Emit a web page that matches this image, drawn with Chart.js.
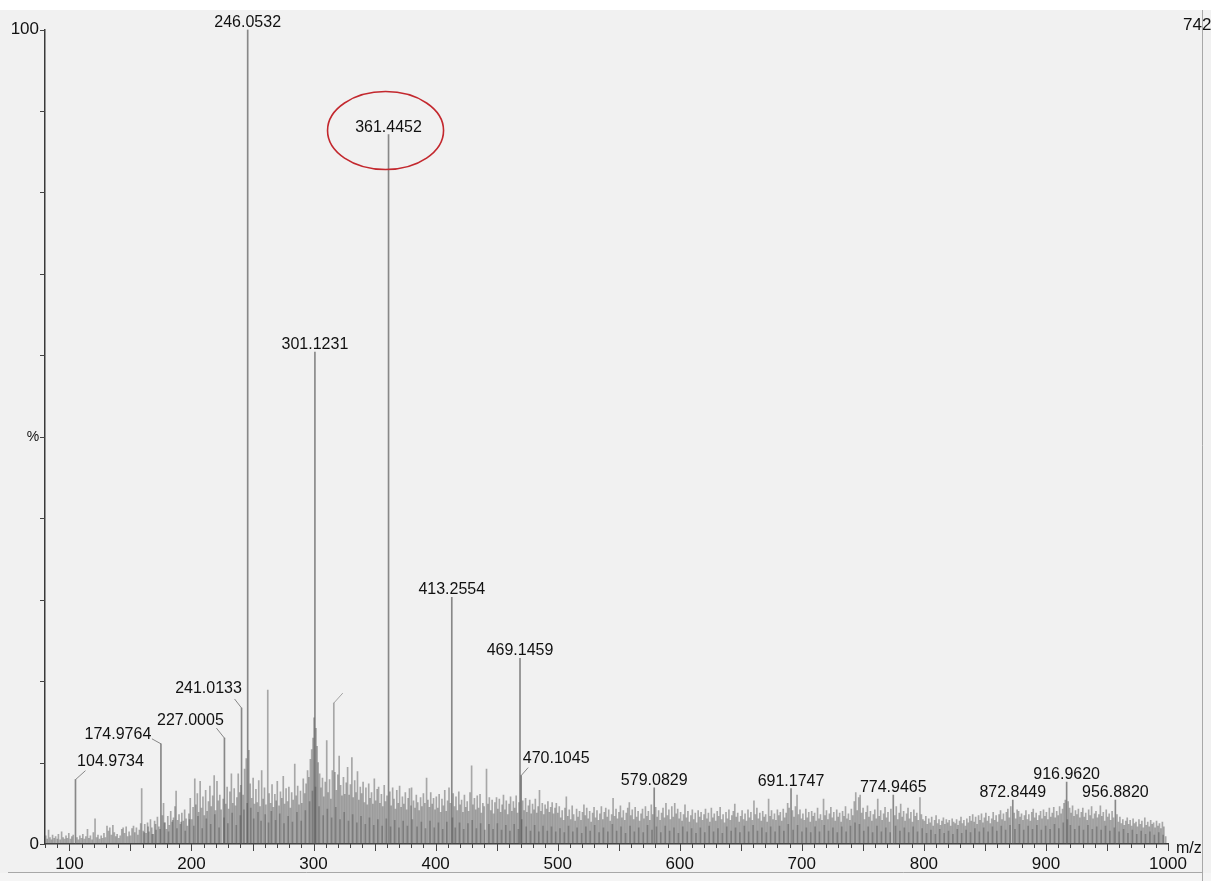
<!DOCTYPE html>
<html>
<head>
<meta charset="utf-8">
<title>ESI-MS spectrum</title>
<script src="https://cdn.jsdelivr.net/npm/chart.js@4/dist/chart.umd.min.js"></script>
<style>
  html, body { margin: 0; padding: 0; background: #f1f1f1; overflow: hidden; }
  #wrap { position: relative; width: 1211px; height: 881px; }
  canvas { display: block; }
</style>
</head>
<body>
<div id="wrap"><canvas id="spec" width="1211" height="881"></canvas></div>
<script>
// ---- labelled peaks (m/z, relative intensity %) ----
const peakMz  = [104.9734, 174.9764, 227.0005, 241.0133, 246.0532, 301.1231, 361.4452, 413.2554,
                 469.1459, 470.1045, 579.0829, 691.1747, 774.9465, 872.8449, 916.9620, 956.8820];
const peakPct = [7.9, 12.3, 13.0, 16.7, 100, 60.4, 87.1, 30.3,
                 22.8, 8.4, 6.9, 6.8, 6.0, 5.4, 7.6, 5.4];

// ---- unlabelled ion signals, [m/z, %] ----
const noise080 = [[80.6,1.0],[81.8,0.6],[82.9,1.7],[84.1,0.8],[85.3,0.5],[86.2,1.1],[87.5,0.7],[88.7,0.9],[90.1,0.6],[91.0,1.2],
  [92.4,0.5],[93.6,1.5],[94.8,0.8],[96.0,0.6],[97.2,1.0],[98.3,0.7],[99.5,1.3],[100.9,0.6],[102.0,0.9],[103.1,1.1],
  [106.2,0.8],[107.4,0.5],[108.6,1.0],[109.9,0.7],[111.0,1.2],[112.3,0.6],[113.5,0.9],[114.8,1.8],[116.0,0.7],[117.2,1.0],
  [118.5,0.5],[119.6,1.4],[121.0,3.1],[122.3,0.8],[123.4,1.1],[124.7,0.6],[126.0,1.0],[127.1,0.7],[128.3,1.3],[129.5,0.8],
  [130.8,2.2],[132.0,1.6],[133.1,2.0],[134.4,1.1],[135.6,2.3],[136.8,1.4],[138.0,0.9],[139.1,1.2],[140.4,0.7],[141.6,1.0],
  [142.9,1.8],[144.0,2.0],[145.2,1.3],[146.5,2.1],[147.7,0.9],[148.9,1.5],[150.0,1.0],[151.3,1.9],[152.5,2.2],[153.6,1.4],
  [154.9,2.0],[156.1,1.1],[157.3,1.7],[158.4,2.5],[159.2,6.8],[160.5,1.6]];
const noise160 = [[161.7,2.4],[162.8,1.3],[164.0,2.6],[165.2,1.5],[166.4,3.0],[167.5,2.0],[168.7,1.2],[169.8,2.8],[171.0,1.7],
  [172.1,3.3],[173.3,2.1],[176.2,3.5],[177.1,5.0],[178.3,2.6],[179.5,1.8],[180.6,3.4],[181.8,2.3],[183.0,4.0],[184.1,2.7],
  [185.3,3.2],[186.5,4.6],[187.4,6.5],[188.6,2.9],[189.8,3.6],[190.9,2.4],[192.1,3.8],[193.3,2.8],[194.4,4.2],[195.6,3.1],
  [196.7,2.2],[197.9,3.7],[199.0,5.6],[200.2,3.0]];
const noise200 = [[201.3,4.5],[202.7,8.0],[203.6,4.8],[204.8,6.2],[205.9,3.9],[207.1,7.7],[208.2,4.4],[209.4,5.8],[210.5,3.5],
  [211.6,6.6],[212.8,4.0],[213.9,5.2],[215.1,7.1],[216.2,4.6],[217.4,5.9],[218.6,8.4],[219.7,4.1],[220.9,7.7],[222.0,5.3],
  [223.2,6.0],[224.3,4.2],[226.0,5.5],[228.1,4.9],[229.2,7.0],[230.4,4.3],[231.5,6.4],[232.7,8.6],[233.8,5.0],[235.0,6.8],
  [236.1,4.7],[237.2,5.7],[238.3,8.6],[239.5,6.3],[240.4,7.2]];
const noise240 = [[242.3,6.0],[243.5,9.2],[244.9,10.5],[247.0,11.5],[248.1,7.4],[249.3,5.6],[250.5,8.1],[251.6,4.9],[252.8,6.7],
  [253.9,5.1],[255.1,7.8],[256.2,4.6],[257.5,9.0],[258.7,5.5],[259.8,6.9],[261.0,4.8],[262.5,18.9],[263.6,6.2],[264.8,5.0],
  [266.0,7.3],[267.1,4.5],[268.3,6.1],[269.4,5.3],[270.3,7.7],[271.7,4.7],[272.9,6.4],[274.0,5.6],[275.2,8.3],[276.3,4.9],
  [277.5,6.8],[278.7,5.2],[279.8,7.0],[281.0,4.4],[282.1,6.3],[283.3,5.4],[284.6,9.8],[285.8,5.9],[287.0,7.1],[288.1,4.8],
  [289.3,6.5],[290.4,5.0],[291.6,8.0],[292.8,6.2],[293.9,7.4],[295.1,9.0],[296.2,8.2],[297.4,10.4],[298.5,11.6],[299.6,13.0],
  [300.4,15.5],[302.0,14.2],[302.9,12.0],[303.8,10.0],[305.0,8.6],[306.1,6.9],[307.3,8.1],[308.4,5.8]];
const noise308 = [[309.6,7.6],[310.8,12.7],[311.9,6.3],[313.1,7.9],[314.2,5.5],[315.4,9.0],[316.6,17.3],[317.5,8.8],[318.7,6.6],
  [319.9,8.5],[321.0,10.8],[322.2,7.2],[323.3,5.9],[324.5,8.2],[325.6,6.1],[326.8,7.5],[327.9,9.4],[329.1,6.0],[330.2,7.3],
  [331.4,10.6],[332.5,5.7],[333.7,7.8],[334.8,6.3],[336.0,8.9],[337.1,5.4],[338.3,7.0],[339.4,6.2],[340.6,7.6],[341.7,5.1],
  [342.9,6.9],[344.0,4.8],[345.2,7.4],[346.3,5.6],[347.5,6.3],[348.6,4.9],[349.8,8.0],[350.9,5.3],[352.1,6.7],[353.3,7.0],
  [354.4,5.0],[355.6,6.1],[356.7,4.6],[357.9,7.2],[359.0,5.2],[360.2,5.9],[362.5,6.4],[363.6,4.7],[364.8,6.9],[365.9,5.5],
  [367.1,4.3],[368.2,6.6],[369.4,5.0],[370.5,7.1],[371.7,4.5],[372.8,5.8],[374.0,4.9],[375.2,6.3],[376.3,4.2],[377.5,5.6],
  [378.6,6.8],[379.8,4.7],[380.3,6.9],[381.9,5.3],[383.1,4.4],[384.2,6.0],[385.4,5.1],[386.5,4.1],[387.7,5.7],[388.8,4.6],
  [390.0,6.2],[391.2,5.0],[392.6,8.1],[393.7,5.4],[394.9,4.5],[396.0,6.3],[397.2,4.9],[398.3,5.6],[399.5,4.2]];
const noise400 = [[400.6,5.8],[401.8,4.4],[402.9,6.1],[404.1,3.9],[405.2,5.5],[406.4,4.7],[407.5,6.6],[408.7,4.0],[409.8,5.3],
  [411.0,6.9],[412.1,5.0],[414.4,6.2],[415.5,4.6],[416.7,5.8],[417.8,4.1],[419.0,6.4],[420.1,4.8],[421.3,5.4],[422.4,3.9],
  [423.6,6.0],[424.7,4.5],[425.9,5.2],[427.0,4.0],[428.2,6.3],[429.5,9.6],[430.6,4.8],[431.8,5.6],[432.9,4.2],[434.1,5.9],
  [435.2,4.4],[436.4,6.1],[437.5,3.8],[438.7,5.0],[439.8,4.6],[441.7,9.2],[442.9,4.9],[444.0,5.7],[445.2,4.1],[446.3,5.4],
  [447.5,3.7],[448.6,5.1],[449.9,5.7],[451.0,4.3],[452.2,5.5],[453.3,3.9],[454.5,4.8],[455.6,6.0],[456.8,4.2],[457.9,5.3],
  [459.1,3.6],[460.2,4.9],[461.4,5.8],[462.5,4.0],[463.7,5.2],[464.8,4.4],[466.0,5.9],[467.1,3.8],[468.3,5.1],[471.4,5.3],
  [472.5,4.1],[473.7,5.6],[474.8,3.9],[476.0,4.7],[477.1,5.4],[478.3,3.7],[479.4,4.9],[480.6,4.2],[481.7,5.5],[482.9,3.8],
  [484.0,4.6],[485.1,6.6],[486.3,4.0],[487.4,5.0],[488.6,3.6],[489.7,4.8],[490.9,4.3],[492.0,5.2],[493.2,3.9],[494.3,4.5],
  [495.5,5.1],[496.6,3.7],[497.8,4.4],[498.9,5.0]];
const noise500 = [[500.1,3.8],[501.3,4.6],[502.5,3.2],[503.7,4.1],[504.9,2.9],[506.0,4.4],[507.1,5.8],[508.3,3.4],[509.5,4.2],
  [510.7,3.0],[511.9,4.7],[513.1,3.6],[514.3,2.8],[515.5,4.3],[516.7,3.3],[517.9,4.0],[519.1,2.9],[520.3,3.9],[521.5,4.8],
  [522.6,3.5],[523.8,4.4],[525.0,3.1],[526.2,4.0],[527.4,2.7],[528.6,3.8],[529.8,4.5],[531.0,3.2],[532.2,4.1],[533.4,2.9],
  [534.6,3.7],[535.8,4.6],[537.0,3.0],[538.2,3.9],[539.4,4.4],[540.6,3.3],[541.8,4.2],[543.0,2.8],[544.2,3.6],[545.4,5.6],
  [546.6,3.4],[547.8,4.3],[549.0,3.1],[550.2,3.9],[551.4,4.7],[552.6,3.2],[553.8,4.1],[555.0,2.9],[556.2,3.8],[557.4,4.4],
  [558.7,5.1],[559.9,3.5],[561.1,4.2],[562.3,3.0],[563.5,4.5],[564.7,3.3],[565.9,4.0],[567.1,2.8],[568.3,3.7],[569.5,4.3],
  [570.7,3.1],[571.9,4.6],[573.1,3.4],[574.3,4.0],[575.5,2.9],[576.7,4.8],[577.9,3.6],[580.3,4.5],[581.5,3.3],[582.7,4.1],
  [583.9,2.9],[585.1,3.8],[586.3,4.4],[587.5,3.2],[588.7,5.0],[589.9,3.5],[591.1,4.2],[592.3,3.0],[593.5,4.6],[594.7,3.3],
  [595.9,5.0],[597.1,3.7],[598.3,4.3],[599.5,3.1]];
const noise600 = [[600.7,3.9],[601.9,2.8],[603.1,3.6],[604.3,4.8],[605.5,3.2],[606.7,4.0],[607.9,2.7],[609.1,3.5],[610.3,4.2],
  [611.5,3.0],[612.7,3.8],[613.9,2.6],[615.1,4.1],[616.3,3.3],[617.5,3.9],[618.7,2.9],[619.9,3.6],[621.1,4.3],[622.3,3.1],
  [623.5,3.8],[624.7,2.7],[625.9,4.4],[627.1,3.2],[628.3,3.7],[629.5,2.8],[630.7,4.0],[631.9,3.4],[633.1,4.5],[634.3,3.0],
  [635.5,3.6],[636.7,2.6],[637.9,3.9],[639.1,3.1],[640.3,4.2],[641.5,2.9],[642.7,3.5],[643.9,4.0],[645.1,4.9],[646.3,3.3],
  [647.5,3.8],[648.7,2.7],[649.9,3.4],[651.1,4.1],[652.3,3.0],[653.5,3.7],[654.7,2.8],[655.9,4.2],[657.1,3.2],[658.3,3.9],
  [659.5,2.9],[660.8,5.3],[662.0,3.6],[663.2,4.4],[664.4,3.1],[665.6,3.8],[666.8,2.8],[668.0,4.0],[669.2,3.3],[670.4,3.6],
  [671.6,2.7],[672.8,5.5],[674.0,3.4],[675.2,4.1],[676.4,3.0],[677.6,3.7],[678.8,2.9],[680.0,4.2],[681.2,3.5],[682.4,3.9],
  [683.6,2.8],[684.8,4.3],[686.0,3.2],[687.2,3.8],[688.4,5.0],[689.6,4.4],[692.4,4.1],[693.6,3.3],[694.8,4.6],[696.1,6.0],
  [697.3,3.6],[698.5,4.2],[699.7,3.1]];
const noise700 = [[700.9,3.7],[702.1,2.9],[703.3,4.3],[704.5,3.2],[705.7,3.9],[706.9,2.7],[708.1,4.0],[709.3,3.4],[710.5,3.8],
  [711.7,2.8],[712.9,4.4],[714.1,3.1],[715.3,3.6],[716.5,2.9],[717.8,5.5],[719.0,3.5],[720.2,4.1],[721.4,3.0],[722.6,3.7],
  [723.8,4.5],[725.0,3.2],[726.2,3.9],[727.4,2.8],[728.6,4.2],[729.8,3.3],[731.0,3.8],[732.2,2.7],[733.4,4.0],[734.6,3.4],
  [735.8,4.6],[737.0,3.1],[738.2,3.7],[739.4,2.9],[740.6,4.3],[741.8,3.5],[743.0,5.2],[744.2,6.3],[745.4,4.1],[746.6,5.7],
  [747.8,6.0],[749.0,3.8],[750.2,4.4],[751.4,3.0],[752.6,3.9],[753.8,4.7],[755.0,3.3],[756.2,4.0],[757.4,2.8],[758.6,3.6],
  [759.8,4.2],[761.0,3.1],[762.2,5.5],[763.4,3.4],[764.6,4.1],[765.8,2.9],[767.0,3.7],[768.2,4.5],[769.4,3.2],[770.6,3.9],
  [771.8,2.7],[773.0,4.3],[776.2,3.5],[777.4,4.6],[778.6,3.0],[779.8,3.8],[781.0,4.9],[782.2,3.3],[783.4,4.0],[784.6,2.8],
  [785.8,3.7],[787.0,4.4],[788.2,3.1],[789.4,3.9],[790.6,2.7],[791.8,4.2],[793.0,3.4],[794.2,3.8],[795.4,2.9],[796.8,5.7],
  [798.0,3.6],[799.2,3.0]];
const noise800 = [[800.4,2.8],[801.6,3.4],[802.8,2.4],[804.0,3.1],[805.2,2.6],[806.4,3.3],[807.6,2.2],[808.8,2.9],[810.0,3.5],
  [811.2,2.5],[812.4,3.0],[813.6,2.3],[814.8,2.8],[816.0,3.2],[817.2,2.4],[818.4,3.0],[819.6,2.6],[820.8,2.9],[822.0,2.2],
  [823.2,3.1],[824.4,2.7],[825.6,2.5],[826.8,3.0],[828.0,2.3],[829.2,2.8],[830.4,3.3],[831.6,2.5],[832.8,2.9],[834.0,2.2],
  [835.2,3.1],[836.4,2.6],[837.6,3.4],[838.8,2.8],[840.0,3.6],[841.2,2.7],[842.4,3.3],[843.6,2.4],[844.8,3.5],[846.0,2.9],
  [847.2,3.7],[848.4,2.6],[849.6,3.2],[850.8,3.8],[852.0,2.8],[853.2,3.4],[854.4,2.5],[855.6,3.1],[856.8,3.9],[858.0,2.9],
  [859.2,3.5],[860.4,2.7],[861.6,3.6],[862.8,4.1],[864.0,3.0],[865.2,3.7],[866.4,2.8],[867.6,3.9],[868.8,4.3],[870.0,3.2],
  [871.2,4.6],[874.0,3.8],[875.2,3.1],[876.4,4.2],[877.6,4.0],[878.8,3.3],[880.0,3.7],[881.2,2.9],[882.4,3.5],[883.6,4.1],
  [884.8,3.0],[886.0,3.6],[887.2,2.8],[888.4,3.9],[889.6,4.3],[890.8,3.2],[892.0,3.8],[893.2,2.9],[894.4,3.5],[895.6,4.0],
  [896.8,3.1],[898.0,4.2],[899.2,3.4]];
const noise900 = [[900.4,3.9],[901.6,3.0],[902.8,4.4],[904.0,3.3],[905.2,3.8],[906.4,4.5],[907.6,3.2],[908.8,4.0],[910.0,3.5],
  [911.2,4.6],[912.4,3.7],[913.6,4.3],[914.8,5.0],[915.9,5.4],[918.2,5.2],[919.4,4.4],[920.6,3.8],[921.8,4.7],[923.0,3.4],
  [924.2,4.1],[925.4,3.6],[926.6,4.3],[927.8,3.2],[929.0,3.9],[930.2,4.4],[931.4,3.3],[932.6,3.8],[933.8,2.9],[935.0,4.2],
  [936.2,3.5],[937.4,4.6],[938.6,3.1],[939.8,3.7],[941.0,4.0],[942.2,3.2],[943.4,3.6],[944.6,4.7],[945.8,3.4],[947.0,3.9],
  [948.2,2.8],[949.4,4.2],[950.6,3.3],[951.8,3.7],[953.0,2.9],[954.2,4.0],[955.4,3.2],[958.2,3.6],[959.4,2.7],[960.6,3.3],
  [961.8,2.5],[963.0,3.0],[964.2,2.3],[965.4,2.8],[966.6,3.2],[967.8,2.4],[969.0,2.9],[970.2,2.2],[971.4,3.1],[972.6,2.5],
  [973.8,2.7],[975.0,2.1],[976.2,3.0],[977.4,2.4],[978.6,2.8],[979.8,2.0],[981.0,3.2],[982.2,2.3],[983.4,2.7],[984.6,2.1],
  [985.8,2.9],[987.0,2.4],[988.2,2.6],[989.4,2.0],[990.6,2.8],[991.8,2.2],[993.0,2.5],[994.2,1.9],[995.4,2.7],[996.6,2.1]];

// ---- low-level background ions, [m/z, %] ----
const floor160 = [[161.2,1.4],[164.5,2.1],[167.9,1.2],[170.6,2.4],[174.2,1.8],[177.8,2.6],[181.2,1.5],[184.7,2.9],[188.1,1.9],
  [191.5,2.7],[194.9,1.6],[198.4,3.0],[201.9,2.2],[205.3,3.4],[208.8,1.9],[212.2,3.1],[215.7,2.4],[219.1,3.6],[222.6,2.0],
  [226.6,3.2],[229.8,2.5],[233.3,3.8],[236.7,2.3],[240.0,3.5],[243.0,4.2],[245.6,5.0],[248.6,4.4],[251.0,3.1],[254.5,3.9],
  [257.0,2.8],[260.4,3.6],[263.1,2.6],[265.4,4.0],[268.9,2.9],[272.3,3.7],[275.8,2.5],[279.2,3.4],[282.7,2.7],[286.4,3.9],
  [289.9,2.8],[293.3,4.1],[296.8,5.2],[299.1,6.5],[301.6,7.0],[304.5,4.6],[307.9,3.5],[311.3,4.3],[314.8,3.2],[318.2,4.5],
  [321.7,3.0],[325.1,3.9],[328.6,2.8],[332.0,3.6],[335.5,2.6],[338.9,3.4],[342.4,2.4],[345.8,3.2],[349.3,2.3],[352.7,3.0],
  [356.2,2.2],[359.6,3.1],[363.1,2.1],[366.5,2.9],[370.0,2.0],[373.4,2.8],[376.9,2.2],[380.9,3.0],[384.8,2.1],[388.3,2.7],
  [391.7,1.9],[395.4,2.8],[398.9,2.0],[402.3,2.6],[405.8,1.8],[409.2,2.7],[413.8,3.2],[416.1,2.0],[419.6,2.6],[423.0,1.8],
  [426.5,2.5],[430.0,2.9],[433.4,1.9],[436.9,2.5],[440.3,1.7],[443.7,2.4],[447.1,1.8],[450.6,2.5],[454.0,1.7],[457.5,2.3],
  [460.9,1.6],[464.4,2.4],[467.8,1.8],[470.6,3.0],[474.2,2.1],[477.7,1.6],[481.1,2.3],[484.6,1.5],[488.0,2.2],[491.5,1.6],
  [494.9,2.1],[498.4,1.5]];
const floor500 = [[501.9,1.9],[505.4,1.4],[508.9,2.2],[512.4,1.5],[515.9,2.0],[519.7,1.3],[523.1,2.1],[526.6,1.6],[530.3,2.3],
  [533.9,1.4],[537.5,2.0],[541.1,1.5],[544.8,2.4],[548.3,1.6],[551.9,2.1],[555.6,1.3],[559.3,2.2],[562.8,1.5],[566.4,2.0],
  [570.1,1.4],[573.6,2.3],[577.3,1.7],[580.9,2.1],[584.5,1.4],[588.1,2.2],[591.7,1.6],[595.3,2.0],[598.9,1.3],[602.5,2.1],
  [606.1,1.5],[609.7,1.9],[613.3,1.3],[616.9,2.0],[620.5,1.4],[624.1,2.2],[627.7,1.5],[631.3,1.9],[634.9,1.3],[638.5,2.1],
  [642.1,1.6],[645.7,2.0],[649.3,1.4],[652.9,2.2],[656.5,1.5],[660.1,2.3],[663.7,1.6],[667.3,2.0],[670.9,1.4],[674.5,2.1],
  [678.1,1.5],[681.7,2.2],[685.3,1.6],[688.9,2.4],[692.9,1.7],[696.5,2.3],[700.1,1.5],[703.7,2.0],[707.3,1.4],[710.9,2.1],
  [714.5,1.5],[718.4,2.3],[721.9,1.6],[725.5,2.0],[729.1,1.4],[732.7,2.1],[736.3,1.5],[739.9,2.2],[743.6,2.6],[747.2,2.4],
  [750.8,1.6],[754.4,2.1],[758.0,1.4],[761.6,2.2],[765.2,1.5],[768.8,2.0],[772.4,1.4],[776.8,2.2],[780.4,1.6],[784.0,2.0],
  [787.6,1.4],[791.2,2.1],[794.8,1.5],[798.6,1.9],[802.2,1.3],[805.8,1.7],[809.4,1.2],[813.0,1.8],[816.6,1.3],[820.2,1.6],
  [823.8,1.2],[827.4,1.8],[831.0,1.3],[834.6,1.7],[838.2,1.4],[841.8,1.9],[845.4,1.5],[849.0,2.0],[852.6,1.5],[856.2,2.1],
  [859.8,1.6],[863.4,2.2],[867.0,1.7],[870.6,2.3],[874.6,1.8],[878.2,2.4],[881.8,1.7],[885.4,2.2],[889.0,1.8],[892.6,2.3],
  [896.2,1.7],[899.8,2.2],[903.4,1.8],[907.0,2.4],[910.6,1.9],[914.2,2.6],[917.6,3.0],[920.0,2.3],[923.6,1.8],[927.2,2.2],
  [930.8,1.7],[934.4,2.3],[938.0,1.8],[941.6,2.1],[945.2,1.7],[948.8,2.2],[952.4,1.6],[956.0,2.0],[959.9,1.5],[963.6,1.8],
  [967.2,1.3],[970.8,1.7],[974.4,1.2],[978.0,1.6],[981.6,1.2],[985.2,1.5],[988.8,1.1],[992.4,1.4],[996.0,1.1],[998.1,0.9]];

// ---- axes ----
const xTickLabels = [100, 200, 300, 400, 500, 600, 700, 800, 900, 1000];
const yTickLabels = [0, 100];
const basePeakCount = '742';

// label placement: [text dx, text dy, leader dx, leader dy] from the peak top; null = centred above
const labelLayout = [
  [35, -18, 10, -9], [-43, -9, -9, -5], [-34, -18, -8, -10], [-33, -19, -7, -9],
  null, null, null, null, null, [35, -17, 7, -8], null, null, null, null, null, null
];
// a leader left without its annotation text
const bareLeaderMz = 316.6, bareLeaderPct = 17.3;

const FONT = "'Liberation Sans', Arial, sans-serif";
const STICK = 'rgba(85,85,85,0.48)';
const FLOOR = 'rgba(65,65,65,0.42)';
const TEXT = '#111111';

const toPoints = arr => arr.map(p => ({ x: p[0], y: p[1] }));
const noisePoints = toPoints([].concat(noise080, noise160, noise200, noise240, noise308,
  noise400, noise500, noise600, noise700, noise800, noise900));
const floorPoints = toPoints([].concat(floor160, floor500));
const peakPoints = peakMz.map((m, i) => ({ x: m, y: peakPct[i] }));

const paper = {
  id: 'paper',
  beforeDraw(chart) {
    const { ctx, width, height } = chart;
    ctx.save();
    ctx.fillStyle = '#f1f1f1';
    ctx.fillRect(0, 0, width, height);
    ctx.fillStyle = '#ffffff';
    ctx.fillRect(0, 0, width, 10);
    ctx.fillStyle = '#f5f5f5';
    ctx.fillRect(0, 873, width, height - 873);
    ctx.strokeStyle = 'rgba(150,150,150,0.8)';
    ctx.lineWidth = 1;
    ctx.beginPath();
    ctx.moveTo(8, 872.5); ctx.lineTo(1202, 872.5);
    ctx.moveTo(1202.5, 10); ctx.lineTo(1202.5, height);
    ctx.stroke();
    ctx.restore();
  }
};

const marks = {
  id: 'marks',
  afterDraw(chart) {
    const { ctx, chartArea: a, scales: { x, y } } = chart;
    ctx.save();
    ctx.strokeStyle = '#444';
    ctx.lineWidth = 1;
    ctx.beginPath();
    x.ticks.forEach(t => {
      const px = Math.round(x.getPixelForValue(t.value)) + 0.5;
      const len = t.value % 50 === 0 ? 7 : 4;
      ctx.moveTo(px, a.bottom); ctx.lineTo(px, a.bottom + len);
    });
    y.ticks.forEach(t => {
      const py = Math.round(y.getPixelForValue(t.value)) + 0.5;
      ctx.moveTo(a.left - 5, py); ctx.lineTo(a.left, py);
    });
    ctx.stroke();

    // peak annotations
    ctx.font = '16px ' + FONT;
    ctx.fillStyle = TEXT;
    ctx.strokeStyle = 'rgba(100,100,100,0.75)';
    peakMz.forEach((m, i) => {
      const px = x.getPixelForValue(m), py = y.getPixelForValue(peakPct[i]);
      const text = m.toFixed(4);
      const lay = labelLayout[i];
      if (lay) {
        ctx.beginPath();
        ctx.moveTo(px, py); ctx.lineTo(px + lay[2], py + lay[3]);
        ctx.stroke();
        ctx.textAlign = 'center'; ctx.textBaseline = 'middle';
        ctx.fillText(text, px + lay[0], py + lay[1]);
      } else {
        ctx.textAlign = 'center'; ctx.textBaseline = 'alphabetic';
        ctx.fillText(text, px, py - 3);
      }
    });
    {
      const px = x.getPixelForValue(bareLeaderMz), py = y.getPixelForValue(bareLeaderPct);
      ctx.strokeStyle = 'rgba(130,130,130,0.7)';
      ctx.beginPath(); ctx.moveTo(px, py); ctx.lineTo(px + 9, py - 10); ctx.stroke();
    }

    // highlighted ion (361.4452) ringed in red
    {
      const k = peakMz.indexOf(361.4452);
      const px = x.getPixelForValue(peakMz[k]), py = y.getPixelForValue(peakPct[k]);
      ctx.strokeStyle = '#c3282e';
      ctx.lineWidth = 1.6;
      ctx.beginPath();
      ctx.ellipse(px - 3, py - 4, 58, 39, 0, 0, Math.PI * 2);
      ctx.stroke();
    }

    // axis captions
    ctx.fillStyle = TEXT;
    ctx.font = '16px ' + FONT;
    ctx.textAlign = 'left'; ctx.textBaseline = 'middle';
    ctx.fillText('m/z', a.right + 8, a.bottom + 5);
    ctx.font = '14px ' + FONT;
    ctx.textAlign = 'center';
    ctx.fillText('%', a.left - 12, (a.top + a.bottom) / 2);
    ctx.font = '17px ' + FONT;
    ctx.textAlign = 'left';
    ctx.fillText(basePeakCount, 1183, 25);
    ctx.restore();
  }
};

new Chart(document.getElementById('spec'), {
  type: 'bar',
  data: {
    datasets: [
      { data: noisePoints, backgroundColor: STICK, barThickness: 1, grouped: false },
      { data: floorPoints, backgroundColor: FLOOR, barThickness: 1, grouped: false },
      { data: peakPoints, backgroundColor: 'rgba(95,95,95,0.72)', barThickness: 1, grouped: false }
    ]
  },
  options: {
    responsive: false,
    devicePixelRatio: 1,
    animation: false,
    layout: { padding: { left: 0, right: 43, top: 29.5, bottom: 0 } },
    plugins: { legend: { display: false }, tooltip: { enabled: false } },
    scales: {
      x: {
        type: 'linear', min: 80, max: 1000, offset: false,
        afterBuildTicks(s) {
          const t = [];
          for (let v = 80; v <= 1000; v += 10) t.push({ value: v });
          s.ticks = t;
        },
        afterFit(s) { s.height = 37; },
        ticks: {
          autoSkip: false, maxRotation: 0, padding: 10, color: TEXT,
          font: { family: FONT, size: 17 },
          callback: v => (xTickLabels.includes(v) ? String(v) : '')
        },
        grid: { drawOnChartArea: false, drawTicks: false },
        border: { display: true, color: '#3a3a3a', width: 1.5 }
      },
      y: {
        type: 'linear', min: 0, max: 100,
        afterBuildTicks(s) {
          const t = [];
          for (let v = 0; v <= 100; v += 10) t.push({ value: v });
          s.ticks = t;
        },
        afterFit(s) { s.width = 45; },
        ticks: {
          autoSkip: false, padding: 6, color: TEXT,
          font: { family: FONT, size: 17 },
          callback: v => (yTickLabels.includes(v) ? String(v) : '')
        },
        grid: { drawOnChartArea: false, drawTicks: false },
        border: { display: true, color: '#3a3a3a', width: 1.5 }
      }
    }
  },
  plugins: [paper, marks]
});
</script>
</body>
</html>
